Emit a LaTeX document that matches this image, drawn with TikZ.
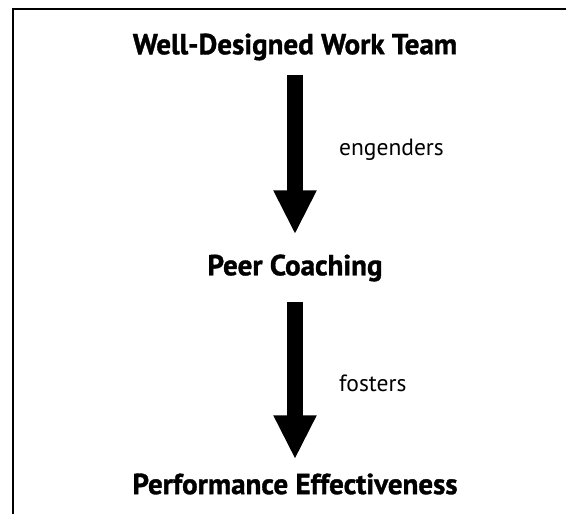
\documentclass[tikz,border=0pt]{standalone}
\usepackage{fontspec}
\setmainfont{PT Sans}
\newfontfamily\heavyfont{PT Sans}[BoldFeatures={FakeBold=1.2}]
\usetikzlibrary{arrows.meta}
\begin{document}
\begin{tikzpicture}[x=1pt,y=-1pt,
  stage/.style={font=\heavyfont\bfseries\fontsize{29}{32}\selectfont, inner sep=0pt},
  verb/.style={font=\fontsize{23.5}{26}\selectfont, inner sep=0pt, anchor=west},
  bigarrow/.style={line width=16pt, -{Triangle[width=40pt,length=44pt]}},
  frame/.style={line width=2pt}]
  \useasboundingbox (0,0) rectangle (566,514);
  % open frame: top and left edges
  \draw[frame] (566,9) -- (13,9) -- (13,514);
  % stages
  \node[stage] (team) at (295,47) {Well-Designed Work Team};
  \node[stage] (peer) at (295,268) {Peer Coaching};
  \node[stage] (perf) at (295,484) {Performance Effectiveness};
  % causal arrows
  \draw[bigarrow, shorten <=14pt, shorten >=20pt] (team) -- (peer);
  \draw[bigarrow, shorten <=20pt, shorten >=14pt] (peer) -- (perf);
  % arrow labels
  \node[verb] (eng) at (339,150) {engenders};
  \node[verb] (fos) at (339,383) {fosters};
\end{tikzpicture}
\end{document}
